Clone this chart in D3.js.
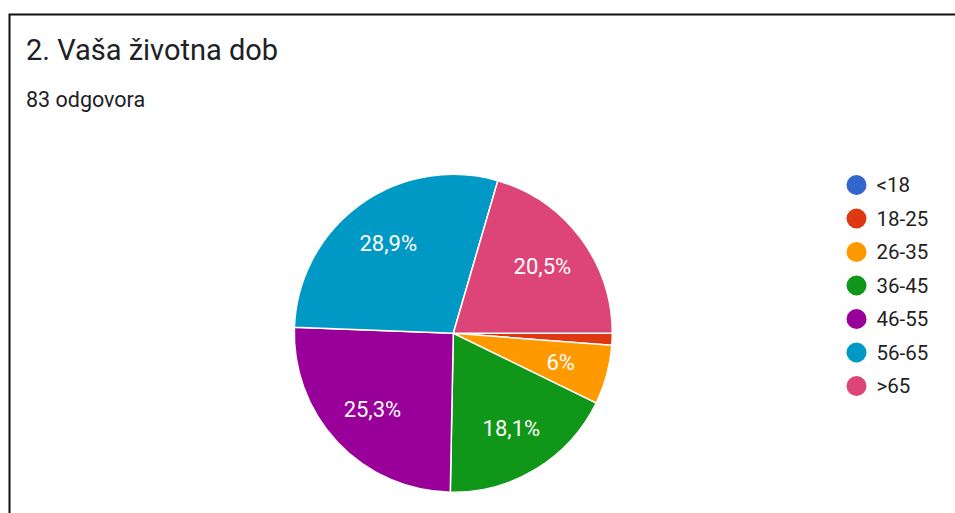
<!DOCTYPE html>
<html>
<head>
<meta charset="utf-8">
<script src="https://cdn.jsdelivr.net/npm/d3@7"></script>
<style>
  body { margin: 0; background: #fff; }
  svg { display: block; font-family: Roboto, Arial, sans-serif; }
</style>
</head>
<body>
<div id="chart"></div>
<script>
// data (83 answers)
var categories = ["<18", "18-25", "26-35", "36-45", "46-55", "56-65", ">65"];
var counts = [0, 1, 5, 15, 21, 24, 17];
var colors = ["#3366cc", "#dc3912", "#ff9900", "#109618", "#990099", "#0099c6", "#dd4477"];
var title = "2. Vaša životna dob";
var subtitle = "83 odgovora";

var width = 955, height = 513;

var svg = d3.select("#chart")
  .append("svg")
    .attr("width", width)
    .attr("height", height);

// frame (top and left edge only visible)
svg.append("path")
  .attr("d", "M9.5,600 V14.5 H960")
  .style("fill", "none")
  .style("stroke", "#111")
  .style("stroke-width", 2);

svg.append("text")
  .attr("x", 26).attr("y", 60)
  .style("font-size", "29px")
  .style("fill", "#202124")
  .text(title);

svg.append("text")
  .attr("x", 26).attr("y", 107)
  .style("font-size", "21.5px")
  .style("fill", "#202124")
  .text(subtitle);

// pie
var cx = 453.3, cy = 333.3, radius = 159;
var total = d3.sum(counts);

var pie = d3.pie()
  .sort(null)
  .startAngle(Math.PI / 2)
  .endAngle(Math.PI / 2 + 2 * Math.PI);

var arcs = pie(counts);

var arcGenerator = d3.arc()
  .innerRadius(0)
  .outerRadius(radius);

var labelArc = d3.arc()
  .innerRadius(radius * 0.7)
  .outerRadius(radius * 0.7);

var g = svg.append("g")
  .attr("transform", "translate(" + cx + "," + cy + ")");

g.selectAll("path")
  .data(arcs)
  .enter()
  .append("path")
    .attr("d", arcGenerator)
    .style("fill", function(d, i) { return colors[i]; })
    .style("stroke", "#fff")
    .style("stroke-width", 1.5);

function fmt(v) {
  var p = Math.round(v / total * 1000) / 10;
  return String(p).replace(".", ",") + "%";
}

g.selectAll("text.lbl")
  .data(arcs.filter(function(d) { return d.value / total > 0.05; }))
  .enter()
  .append("text")
    .attr("class", "lbl")
    .attr("transform", function(d) { return "translate(" + labelArc.centroid(d) + ")"; })
    .attr("text-anchor", "middle")
    .attr("dominant-baseline", "central")
    .style("font-size", "22px")
    .style("fill", "#fff")
    .text(function(d) { return fmt(d.value); });

// legend
var legendY = d3.scalePoint()
  .domain(categories)
  .range([185, 386]);

var legend = svg.append("g");

var item = legend.selectAll("g")
  .data(categories)
  .enter()
  .append("g")
    .attr("transform", function(d) { return "translate(856.5," + legendY(d) + ")"; });

item.append("circle")
  .attr("r", 10)
  .style("fill", function(d, i) { return colors[i]; });

item.append("text")
  .attr("x", 20)
  .attr("dominant-baseline", "central")
  .style("font-size", "20.5px")
  .style("fill", "#222")
  .text(function(d) { return d; });
</script>
</body>
</html>
